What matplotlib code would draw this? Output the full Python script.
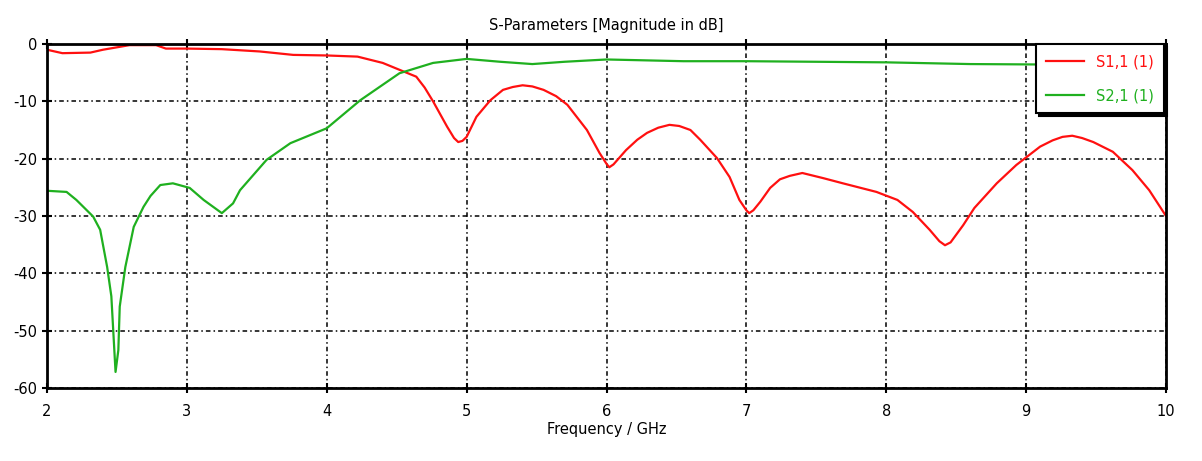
import matplotlib
matplotlib.use("Agg")
import matplotlib.pyplot as plt

# S1,1 (red)
s11_f = [2.0, 2.11, 2.31, 2.40, 2.59, 2.78, 2.85, 3.0, 3.25, 3.52, 3.76, 4.0, 4.22, 4.40, 4.52,
         4.64, 4.70, 4.76, 4.86, 4.91, 4.94, 4.97, 5.0, 5.07, 5.17, 5.26, 5.33, 5.40, 5.47, 5.55,
         5.64, 5.72, 5.86, 5.95, 6.0, 6.02, 6.05, 6.14, 6.22, 6.29, 6.37, 6.45, 6.52, 6.60, 6.67,
         6.79, 6.88, 6.95, 7.00, 7.02, 7.05, 7.10, 7.17, 7.24, 7.31, 7.40, 7.55, 7.69, 7.93, 8.08,
         8.19, 8.31, 8.38, 8.42, 8.46, 8.55, 8.63, 8.79, 8.93, 9.10, 9.19, 9.26, 9.33, 9.40, 9.48,
         9.62, 9.76, 9.88, 10.0]
s11_db = [-1.0, -1.6, -1.5, -1.0, -0.2, -0.2, -0.8, -0.8, -0.9, -1.3, -1.9, -2.0, -2.2, -3.3, -4.5,
          -5.7, -7.6, -10.0, -14.4, -16.4, -17.1, -16.9, -16.2, -12.7, -9.8, -8.0, -7.5, -7.2, -7.4, -8.0,
          -9.1, -10.6, -15.0, -19.0, -20.9, -21.5, -21.0, -18.5, -16.7, -15.5, -14.6, -14.1, -14.3, -15.0, -16.7,
          -19.9, -23.2, -27.2, -29.0, -29.5, -29.0, -27.5, -25.1, -23.6, -23.0, -22.5, -23.4, -24.3, -25.8, -27.2,
          -29.3, -32.4, -34.4, -35.1, -34.6, -31.6, -28.6, -24.3, -21.1, -17.9, -16.8, -16.2, -16.0, -16.4, -17.1,
          -18.8, -22.0, -25.5, -30.0]

# S2,1 (green)
s21_f = [2.0, 2.14, 2.21, 2.33, 2.38, 2.43, 2.46, 2.49, 2.51, 2.52, 2.56, 2.62, 2.69, 2.74, 2.81,
         2.90, 3.02, 3.12, 3.25, 3.33, 3.38, 3.57, 3.74, 4.0, 4.24, 4.52, 4.76, 5.0, 5.24, 5.47,
         5.7, 6.0, 6.55, 7.0, 8.0, 8.6, 9.3, 10.0]
s21_db = [-25.6, -25.8, -27.2, -30.1, -32.4, -38.9, -44.0, -57.2, -53.4, -45.8, -38.9, -31.9, -28.4, -26.5, -24.6,
          -24.3, -25.1, -27.2, -29.5, -27.8, -25.5, -20.2, -17.3, -14.7, -9.8, -5.1, -3.3, -2.6, -3.1, -3.5,
          -3.1, -2.7, -3.0, -3.0, -3.2, -3.5, -3.6, -3.7]

x_ticks = [2, 3, 4, 5, 6, 7, 8, 9, 10]
y_ticks = [0, -10, -20, -30, -40, -50, -60]

fig = plt.figure(figsize=(12.02, 4.61), dpi=100)
ax = fig.add_axes([47/1202, 73/461, (1166-47)/1202, (388-44)/461])

ax.plot(s11_f, s11_db, color="#ff1010", lw=1.6, label="S1,1 (1)")
ax.plot(s21_f, s21_db, color="#1fb01f", lw=1.6, label="S2,1 (1)")

ax.set_xlim(2, 10)
ax.set_ylim(-60, 0)
ax.set_xticks(x_ticks)
ax.set_yticks(y_ticks)
ax.set_yticklabels([str(v) for v in y_ticks])
ax.grid(True, color="black", linestyle=(0, (3, 2, 1, 2)), linewidth=1.1)
ax.tick_params(direction="inout", length=7, width=1.5, top=True, labelsize=10.5, colors="black")
ax.tick_params(axis="x", pad=8)
for s in ax.spines.values():
    s.set_linewidth(2)

ax.set_title("S-Parameters [Magnitude in dB]", fontsize=10.5, pad=10)
ax.set_xlabel("Frequency / GHz", fontsize=10.5, labelpad=2)

leg = ax.legend(loc="upper right", bbox_to_anchor=(0.998, 1.0), borderaxespad=0.0,
                fancybox=False, framealpha=1, edgecolor="black", fontsize=10.5,
                handlelength=2.6, labelspacing=1.3, borderpad=0.7,
                shadow={"color": "black", "alpha": 1.0})
leg.get_frame().set_linewidth(1.5)
for t, c in zip(leg.get_texts(), ["#ff1010", "#1fb01f"]):
    t.set_color(c)

fig.savefig("out.png", dpi=100)
